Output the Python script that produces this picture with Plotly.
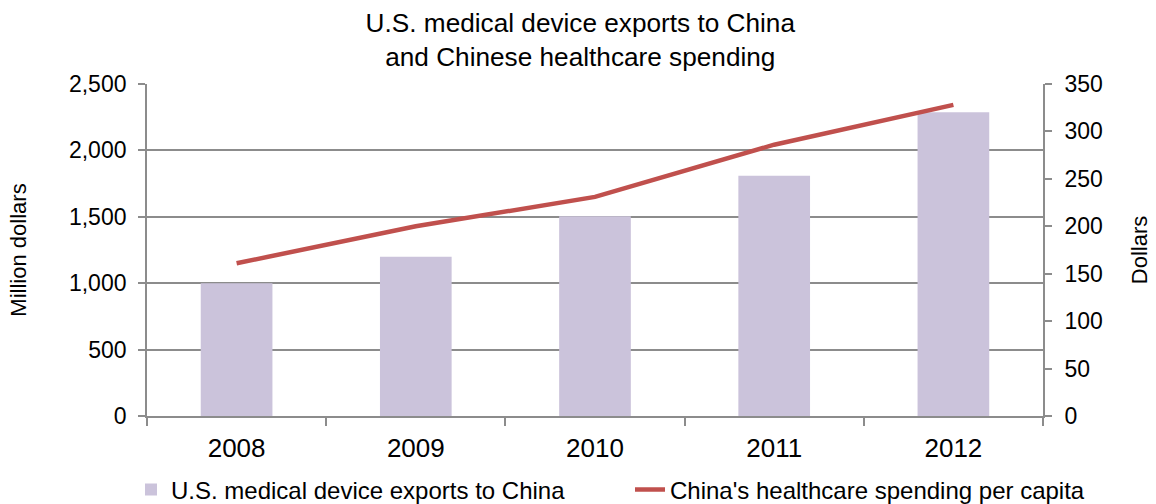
import plotly.graph_objects as go

years = ["2008", "2009", "2010", "2011", "2012"]
exports_musd = [1000, 1200, 1505, 1810, 2288]
spending_per_capita = [161, 200, 231, 286, 328]

bar_color = "#CBC3DB"
line_color = "#C0504D"
axis_color = "#8C8C8C"
font_family = "Liberation Sans, Arial, sans-serif"

fig = go.Figure()
fig.add_trace(go.Bar(
    x=years, y=exports_musd, name="U.S. medical device exports to China",
    marker=dict(color=bar_color, line=dict(width=0)), width=0.4, yaxis="y",
))
fig.add_trace(go.Scatter(
    x=years, y=spending_per_capita, name="China's healthcare spending per capita",
    mode="lines", line=dict(color=line_color, width=4.5), yaxis="y2",
))

fig.update_layout(
    width=1156, height=504,
    paper_bgcolor="white", plot_bgcolor="white",
    font=dict(family=font_family, size=23, color="#000000"),
    margin=dict(l=147, r=113, t=84, b=88, autoexpand=False),
    title=dict(
        text="U.S. medical device exports to China<br>and Chinese healthcare spending",
        x=0.502, xanchor="center", xref="container",
        y=0.937, yanchor="top", yref="container",
        font=dict(size=26.2),
    ),
    xaxis=dict(
        type="category", tickson="boundaries", ticks="outside", ticklen=8,
        tickwidth=1.8, tickcolor=axis_color, showline=True, linecolor=axis_color,
        linewidth=1.8, showgrid=False, tickfont=dict(size=26), automargin=False,
        ticklabelstandoff=8,
    ),
    yaxis=dict(
        range=[0, 2500], dtick=500, tickformat=",d", showgrid=True,
        gridcolor=axis_color, gridwidth=1.8, showline=True, linecolor=axis_color,
        linewidth=1.8, ticks="outside", ticklen=7, tickwidth=1.8, tickcolor=axis_color,
        tickfont=dict(size=23), automargin=False, ticklabelstandoff=7,
        title=dict(text="Million dollars", standoff=36, font=dict(size=22)),
        zeroline=False,
    ),
    yaxis2=dict(
        range=[0, 350], dtick=50, overlaying="y", side="right", showgrid=False,
        showline=True, linecolor=axis_color, linewidth=1.8, ticks="outside",
        ticklen=7, tickwidth=1.8, tickcolor=axis_color, tickfont=dict(size=23),
        automargin=False, ticklabelstandoff=8,
        title=dict(text="Dollars", standoff=30, font=dict(size=22)),
        zeroline=False,
    ),
    legend=dict(
        orientation="h", x=-16 / 896, xanchor="left", xref="paper",
        y=-74 / 332, yanchor="middle", yref="paper",
        font=dict(size=24), itemwidth=30, tracegroupgap=0,
        entrywidth=454, entrywidthmode="pixels",
    ),
    showlegend=True,
)

fig.write_html("out.html")
